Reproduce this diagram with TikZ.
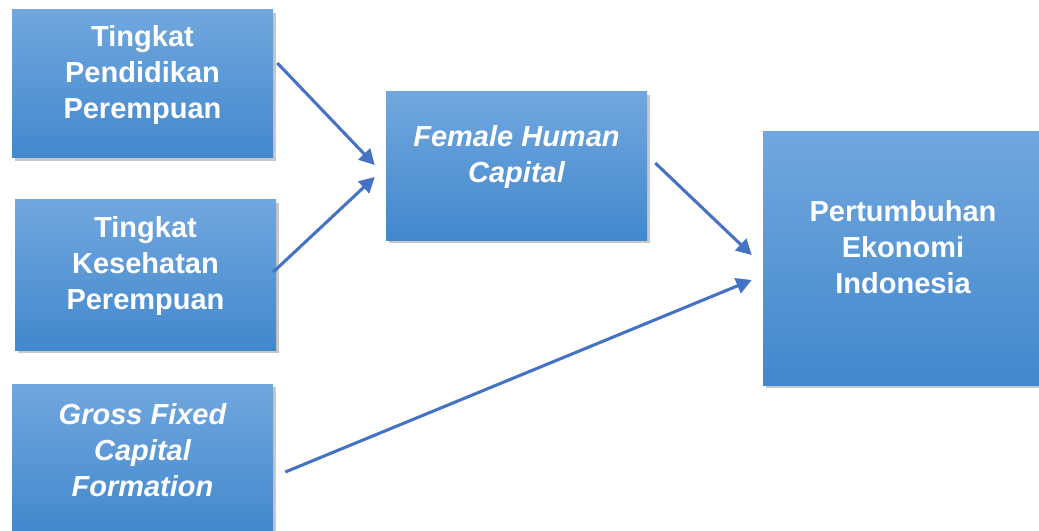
\documentclass[tikz,border=0pt]{standalone}
\usepackage{fontspec}
\setmainfont{Liberation Sans}
\usetikzlibrary{arrows.meta,shadows}
\definecolor{boxtop}{RGB}{113,167,222}
\definecolor{boxbot}{RGB}{66,136,205}
\definecolor{arrowblue}{RGB}{68,114,196}
\begin{document}
\begin{tikzpicture}[x=0.75pt,y=0.75pt,yscale=-1,xscale=1,
  box/.style={draw=none,top color=boxtop,bottom color=boxbot,minimum width=195.75pt,minimum height=111pt,
    drop shadow={shadow xshift=2pt,shadow yshift=-2pt,opacity=0.22,fill=black}},
  txt/.style={text=white,font=\fontsize{21.75}{27}\selectfont\bfseries,align=center,yshift=7pt},
  link/.style={draw=arrowblue,line width=2.3pt,-{Triangle[length=11.5pt,width=12pt]}}]
\useasboundingbox (0,0) rectangle (1039,531);

%Shape: Rectangle
\node [box,label={[txt]center:Tingkat\\Pendidikan\\Perempuan}] (pend) at (142.5,84) {};
%Shape: Rectangle
\node [box,minimum height=112.5pt,label={[txt]center:Tingkat\\Kesehatan\\Perempuan}] (kes) at (145.5,275) {};
%Shape: Rectangle
\node [box,minimum height=112.5pt,label={[txt]center:\itshape Gross Fixed\\\itshape Capital\\\itshape Formation}] (gfcf) at (142.5,459) {};
%Shape: Rectangle
\node [box,label={[txt]center:\itshape Female Human\\\itshape Capital}] (fhc) at (516.5,166) {};
%Shape: Rectangle
\node [box,minimum width=210pt,minimum height=189.75pt,label={[txt,yshift=1.5pt]center:Pertumbuhan\\Ekonomi\\Indonesia}] (pert) at (903,258.5) {};

%Straight Lines
\draw [link] ([shift={(4,-21)}]pend.east) -- ([shift={(-11,-1)}]fhc.west) ;
%Straight Lines
\draw [link] ([shift={(-3,-3)}]kes.east) -- ([shift={(-11,11)}]fhc.west) ;
%Straight Lines
\draw [link] ([shift={(8,-3)}]fhc.east) -- ([shift={(-11,-3.5)}]pert.west) ;
%Straight Lines
\draw [link] ([shift={(12,13)}]gfcf.east) -- ([shift={(-11,21.5)}]pert.west) ;

\end{tikzpicture}
\end{document}
